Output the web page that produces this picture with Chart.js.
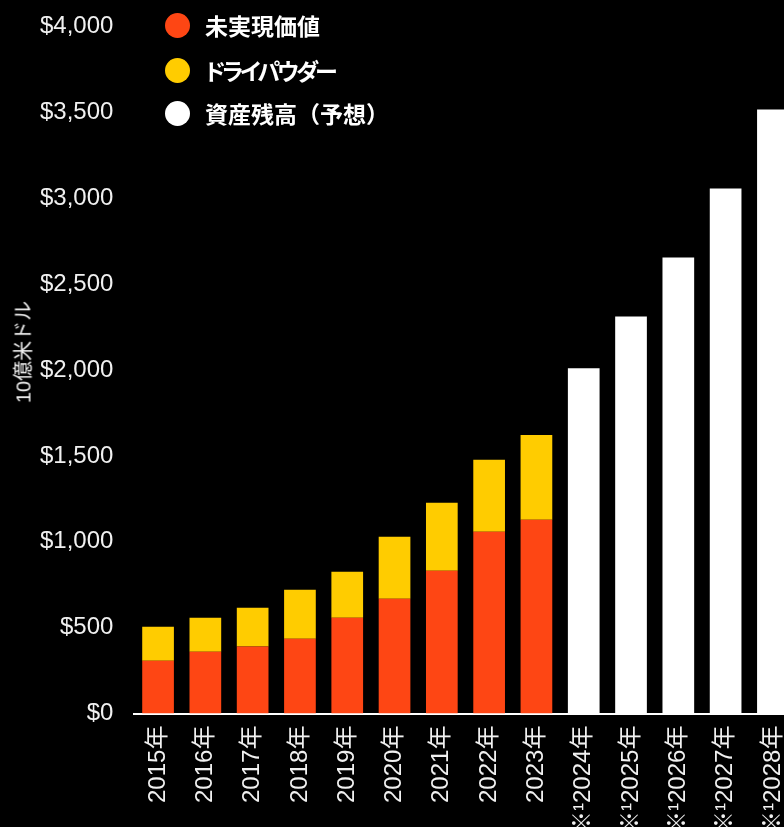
<!DOCTYPE html>
<html>
<head>
<meta charset="utf-8">
<script src="https://cdn.jsdelivr.net/npm/chart.js@4.4.1/dist/chart.umd.min.js"></script>
<style>
  html, body { margin: 0; padding: 0; background: #000; overflow: hidden; }
  #wrap { position: relative; width: 784px; height: 827px; overflow: hidden; }
  #box { position: absolute; left: 0; top: -9px; width: 814px; height: 856px; }
  .legend { position: absolute; left: 165px; top: 0; font-family: "Noto Sans CJK JP", sans-serif; font-weight: bold; font-size: 23px; line-height: 30px; color: #fff; }
  .legend div { position: absolute; left: 0; white-space: nowrap; display: flex; align-items: center; }
  .legend span.dot { width: 25px; height: 25px; border-radius: 50%; display: inline-block; margin-right: 15px; }
  .legend .kana { font-feature-settings: "palt"; letter-spacing: -3px; }
  .ytitle { position: absolute; left: 22px; top: 352px; transform: translate(-50%, -50%) rotate(-90deg);
    font-family: "Liberation Sans", "Noto Sans CJK JP", sans-serif; font-size: 20px; color: #f0f0f0; white-space: nowrap; }
</style>
</head>
<body>
<div id="wrap">
  <div id="box"><canvas id="chart"></canvas></div>
  <div class="ytitle">10億米ドル</div>
  <div class="legend">
    <div style="top:10px"><span class="dot" style="background:#FE4614"></span>未実現価値</div>
    <div style="top:55px"><span class="dot" style="background:#FFCC00"></span><span class="kana">ドライパウダー</span></div>
    <div style="top:98px"><span class="dot" style="background:#FFFFFF"></span>資産残高（予想）</div>
  </div>
</div>
<script>
const years = ["2015年", "2016年", "2017年", "2018年", "2019年", "2020年", "2021年", "2022年", "2023年",
  "※¹2024年", "※¹2025年", "※¹2026年", "※¹2027年", "※¹2028年"];
const unrealized = [308, 360, 390, 436, 558, 669, 831, 1058, 1128, null, null, null, null, null];
const dryPowder = [197, 198, 226, 285, 268, 360, 396, 419, 494, null, null, null, null, null];
const forecast = [null, null, null, null, null, null, null, null, null, 2010, 2312, 2655, 3056, 3516];
const yTicks = [0, 500, 1000, 1500, 2000, 2500, 3000, 3500, 4000];

const tickFont = { family: "'Liberation Sans', 'Noto Sans CJK JP', sans-serif", size: 24 };

new Chart(document.getElementById("chart"), {
  type: "bar",
  data: {
    labels: years,
    datasets: [
      { label: "未実現価値", data: unrealized, backgroundColor: "#FE4614", stack: "s" },
      { label: "ドライパウダー", data: dryPowder, backgroundColor: "#FFCC00", stack: "s" },
      { label: "資産残高（予想）", data: forecast, backgroundColor: "#FFFFFF", stack: "s" },
    ],
  },
  options: {
    responsive: true,
    maintainAspectRatio: false,
    animation: false,
    layout: { padding: { top: 0, right: 8, left: 19, bottom: 0 } },
    plugins: {
      legend: { display: false },
      tooltip: { enabled: false },
    },
    datasets: { bar: { categoryPercentage: 1, barPercentage: 0.67 } },
    scales: {
      x: {
        stacked: true,
        grid: { display: false, drawTicks: false },
        border: { color: "#ffffff", width: 2 },
        ticks: { color: "#f0f0f0", font: tickFont, maxRotation: 90, minRotation: 90, padding: 12, autoSkip: false },
      },
      y: {
        stacked: true,
        min: 0,
        max: 4000,
        afterBuildTicks: axis => { axis.ticks = yTicks.map(v => ({ value: v })); },
        grid: { display: false, drawTicks: false },
        border: { display: false },
        ticks: {
          color: "#f0f0f0",
          font: tickFont,
          padding: 21,
          callback: v => "$" + v.toLocaleString("en-US"),
        },
      },
    },
  },
});
</script>
</body>
</html>
